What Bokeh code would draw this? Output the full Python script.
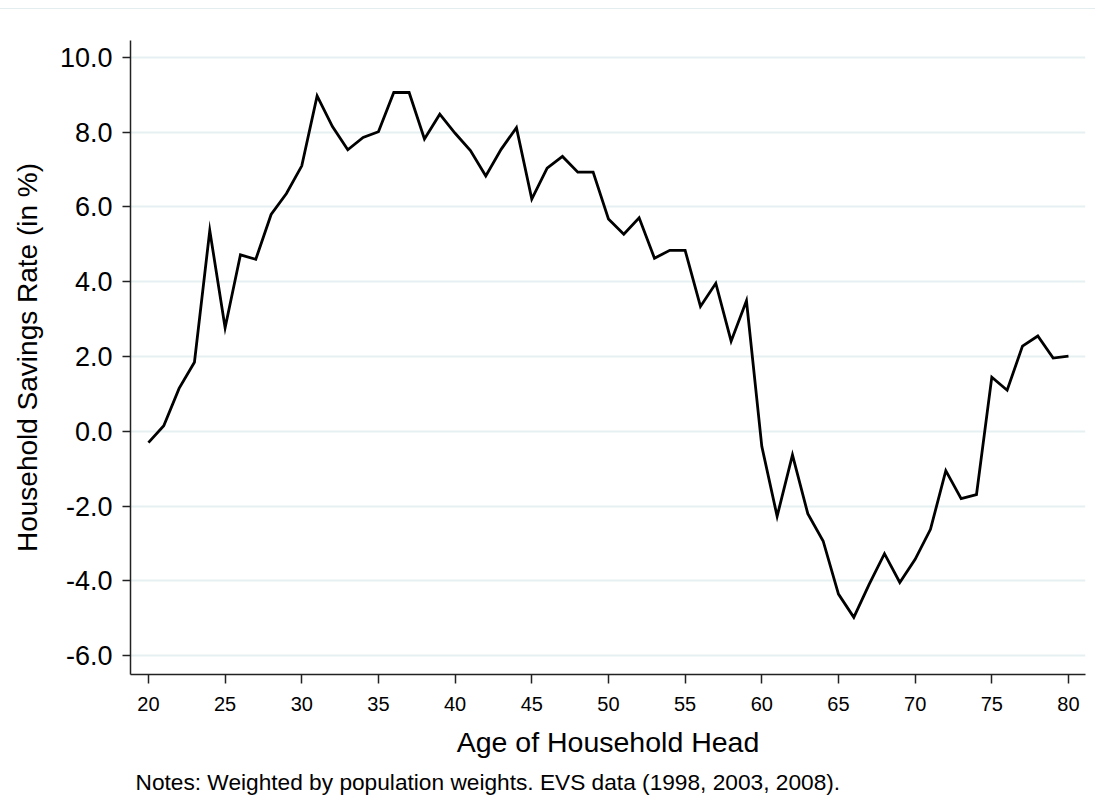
from bokeh.plotting import figure
from bokeh.models import Range1d, FixedTicker, NumeralTickFormatter, Title
from bokeh.embed import file_html
from bokeh.resources import INLINE

ages = list(range(20, 81))
savings_rate = [
    -0.30, 0.15, 1.15, 1.85, 5.37, 2.77, 4.72, 4.60, 5.80, 6.36,
    7.10, 8.97, 8.15, 7.53, 7.86, 8.01, 9.06, 9.06, 7.82, 8.48,
    7.97, 7.51, 6.83, 7.54, 8.12, 6.21, 7.04, 7.35, 6.93, 6.93,
    5.68, 5.27, 5.71, 4.63, 4.84, 4.84, 3.34, 3.96, 2.41, 3.49,
    -0.40, -2.27, -0.63, -2.20, -2.93, -4.35, -4.97, -4.09, -3.27, -4.04,
    -3.42, -2.62, -1.05, -1.80, -1.69, 1.45, 1.10, 2.28, 2.55, 1.96,
    2.01,
]
x_ticks = [20, 25, 30, 35, 40, 45, 50, 55, 60, 65, 70, 75, 80]
y_ticks = [-6, -4, -2, 0, 2, 4, 6, 8, 10]

x_label = "Age of Household Head"
y_label = "Household Savings Rate (in %)"
notes = "Notes: Weighted by population weights. EVS data (1998, 2003, 2008)."

FONT = "Liberation Sans"

p = figure(
    width=1095, height=791,
    output_backend="svg", toolbar_location=None,
    x_range=Range1d(18.83, 81.11), y_range=Range1d(-6.5, 10.45),
    min_border_left=130, min_border_right=10, min_border_top=31, min_border_bottom=118,
)
p.styles = {"margin-top": "8px", "border-top": "1px solid #e3ecee"}
p.outline_line_color = None
p.background_fill_color = "white"
p.border_fill_color = "white"

p.line(ages, savings_rate, line_color="black", line_width=2.8, line_join="miter")

# grid
p.xgrid.visible = False
p.ygrid.ticker = FixedTicker(ticks=y_ticks)
p.ygrid.grid_line_color = "#e6eff1"
p.ygrid.grid_line_width = 2

# x axis
xa = p.xaxis[0]
xa.ticker = FixedTicker(ticks=x_ticks)
xa.axis_label = x_label
xa.axis_label_text_font = FONT
xa.axis_label_text_font_size = "28.5px"
xa.axis_label_text_font_style = "normal"
xa.axis_label_text_color = "black"
xa.axis_label_standoff = 12
xa.major_label_text_font = FONT
xa.major_label_text_font_size = "20px"
xa.major_label_text_color = "black"
xa.major_label_standoff = 13
xa.major_tick_out = 9
xa.major_tick_in = 0
xa.minor_tick_out = 0
xa.minor_tick_in = 0
xa.axis_line_color = "#222222"
xa.axis_line_width = 1.5
xa.major_tick_line_color = "#222222"
xa.major_tick_line_width = 1.5

# y axis
ya = p.yaxis[0]
ya.ticker = FixedTicker(ticks=y_ticks)
ya.formatter = NumeralTickFormatter(format="0.0")
ya.axis_label = y_label
ya.axis_label_text_font = FONT
ya.axis_label_text_font_size = "28px"
ya.axis_label_text_font_style = "normal"
ya.axis_label_text_color = "black"
ya.axis_label_standoff = 14
ya.major_label_text_font = FONT
ya.major_label_text_font_size = "27px"
ya.major_label_text_color = "black"
ya.major_label_standoff = 10
ya.major_tick_out = 8
ya.major_tick_in = 0
ya.minor_tick_out = 0
ya.minor_tick_in = 0
ya.axis_line_color = "#222222"
ya.axis_line_width = 1.5
ya.major_tick_line_color = "#222222"
ya.major_tick_line_width = 1.5

note = Title(text=notes, align="left", text_font=FONT, text_font_size="22.7px",
             text_font_style="normal", text_color="black", offset=5, standoff=12)
p.add_layout(note, "below")

open("out.html", "w").write(file_html(p, INLINE))
